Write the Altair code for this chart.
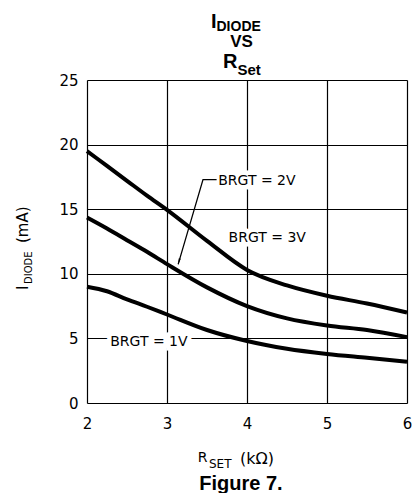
import altair as alt
import pandas as pd

# ---- data ----
r_set = [2, 2.25, 2.5, 2.75, 3, 3.5, 4, 4.5, 5, 5.5, 6]
i_3v = [19.5, 18.35, 17.2, 16.05, 14.95, 12.55, 10.3, 9.1, 8.3, 7.7, 7.0]
i_2v = [14.35, 13.5, 12.6, 11.7, 10.75, 8.95, 7.5, 6.55, 6.0, 5.65, 5.1]
i_1v = [9.0, 8.65, 8.02, 7.45, 6.85, 5.65, 4.8, 4.2, 3.8, 3.5, 3.2]
series_names = ["BRGT = 3V", "BRGT = 2V", "BRGT = 1V"]

x_ticks = [2, 3, 4, 5, 6]
y_ticks = [0, 5, 10, 15, 20, 25]

label_text = ["BRGT = 2V", "BRGT = 3V", "BRGT = 1V"]
label_x = [3.64, 3.77, 2.29]
label_y = [17.15, 12.8, 4.74]

leader_x = [3.62, 3.45, 3.14]
leader_y = [17.29, 17.29, 10.75]
arrow_x = [3.152]
arrow_y = [11.0]

FONT = "DejaVu Sans"
BOLD = "Liberation Sans"

rows = []
for name, vals in zip(series_names, [i_3v, i_2v, i_1v]):
    for x, y in zip(r_set, vals):
        rows.append({"r": x, "i": y, "s": name})
curves = pd.DataFrame(rows)
labels = pd.DataFrame({"t": label_text, "r": label_x, "i": label_y})
leader = pd.DataFrame({"r": leader_x, "i": leader_y, "o": [0, 1, 2]})
arrow = pd.DataFrame({"r": arrow_x, "i": arrow_y})

xs = alt.Scale(domain=[2, 6], nice=False, zero=False)
ys = alt.Scale(domain=[0, 25], nice=False, zero=False)

X = alt.X("r:Q", scale=xs, axis=alt.Axis(values=x_ticks, format="d", grid=True, gridColor="black",
          gridWidth=1.2, gridOpacity=1, domain=False, ticks=False, labelFont=FONT,
          labelFontSize=15, labelColor="black", labelPadding=13, labelFlush=False, title=None))
Y = alt.Y("i:Q", scale=ys, axis=alt.Axis(values=y_ticks, format="d", grid=True, gridColor="black",
          gridWidth=1.2, gridOpacity=1, domain=False, ticks=False, labelFont=FONT,
          labelFontSize=15, labelColor="black", labelPadding=9, labelFlush=False, title=None))

lines = alt.Chart(curves).mark_line(color="black", strokeWidth=4, interpolate="monotone").encode(
    x=X, y=Y, detail="s:N")

halo = alt.Chart(labels).mark_text(align="left", baseline="middle", font=FONT, fontSize=14,
                                   color="white", stroke="white", strokeWidth=9).encode(
    x=alt.X("r:Q", scale=xs), y=alt.Y("i:Q", scale=ys), text="t:N")
txt = alt.Chart(labels).mark_text(align="left", baseline="middle", font=FONT, fontSize=14,
                                  color="black").encode(
    x=alt.X("r:Q", scale=xs), y=alt.Y("i:Q", scale=ys), text="t:N")

lead = alt.Chart(leader).mark_line(color="black", strokeWidth=1.3).encode(
    x=alt.X("r:Q", scale=xs), y=alt.Y("i:Q", scale=ys), order="o:Q")
head = alt.Chart(arrow).mark_point(shape="wedge", filled=True, color="black", size=70,
                                   angle=196, opacity=1).encode(
    x=alt.X("r:Q", scale=xs), y=alt.Y("i:Q", scale=ys))

# ---- text pieces with subscripts ----
title_parts = ["I", "DIODE", "VS", "R", "Set"]
xt_parts = ["R", "SET", "(kΩ)"]
yt_parts = ["I", "DIODE", "(mA)"]
fig_caption = ["Figure 7."]


def piece(text, x, y, size, weight="normal", font=FONT, align="left", angle=0):
    kw = dict(align=align, baseline="alphabetic", font=font, fontSize=size,
              fontWeight=weight, color="black")
    if angle:
        kw["angle"] = angle
    return alt.Chart(pd.DataFrame({"t": [text]})).mark_text(**kw).encode(
        x=alt.value(x), y=alt.value(y), text="t:N")


texts = [
    piece(title_parts[0], 129.5, -52, 20, "bold", BOLD, "right"),
    piece(title_parts[1], 129.5, -49.5, 14, "bold", BOLD, "left"),
    piece(title_parts[2], 154.5, -33, 17, "bold", BOLD, "center"),
    piece(title_parts[3], 150.5, -12, 20, "bold", BOLD, "right"),
    piece(title_parts[4], 150.5, -5, 15, "bold", BOLD, "left"),
    piece(xt_parts[0], 120.5, 382, 14, align="right"),
    piece(xt_parts[1], 122, 388, 12),
    piece(xt_parts[2], 153, 384, 16),
    piece(yt_parts[0], -59, 210, 15, angle=270),
    piece(yt_parts[1], -55, 204, 10, angle=270),
    piece(yt_parts[2], -59, 163, 15, angle=270),
    piece(fig_caption[0], 154, 409.5, 20, "bold", BOLD, "center"),
]

chart = alt.layer(lines, halo, lead, head, txt, *texts).properties(
    width=320, height=323,
    autosize=alt.AutoSizeParams(type="none"),
    padding={"left": 79, "top": 72, "right": 5, "bottom": 90},
).configure_view(stroke="black", strokeWidth=2).configure(background="white")

chart.save("out.html", embed_options={"renderer": "svg", "actions": False})
